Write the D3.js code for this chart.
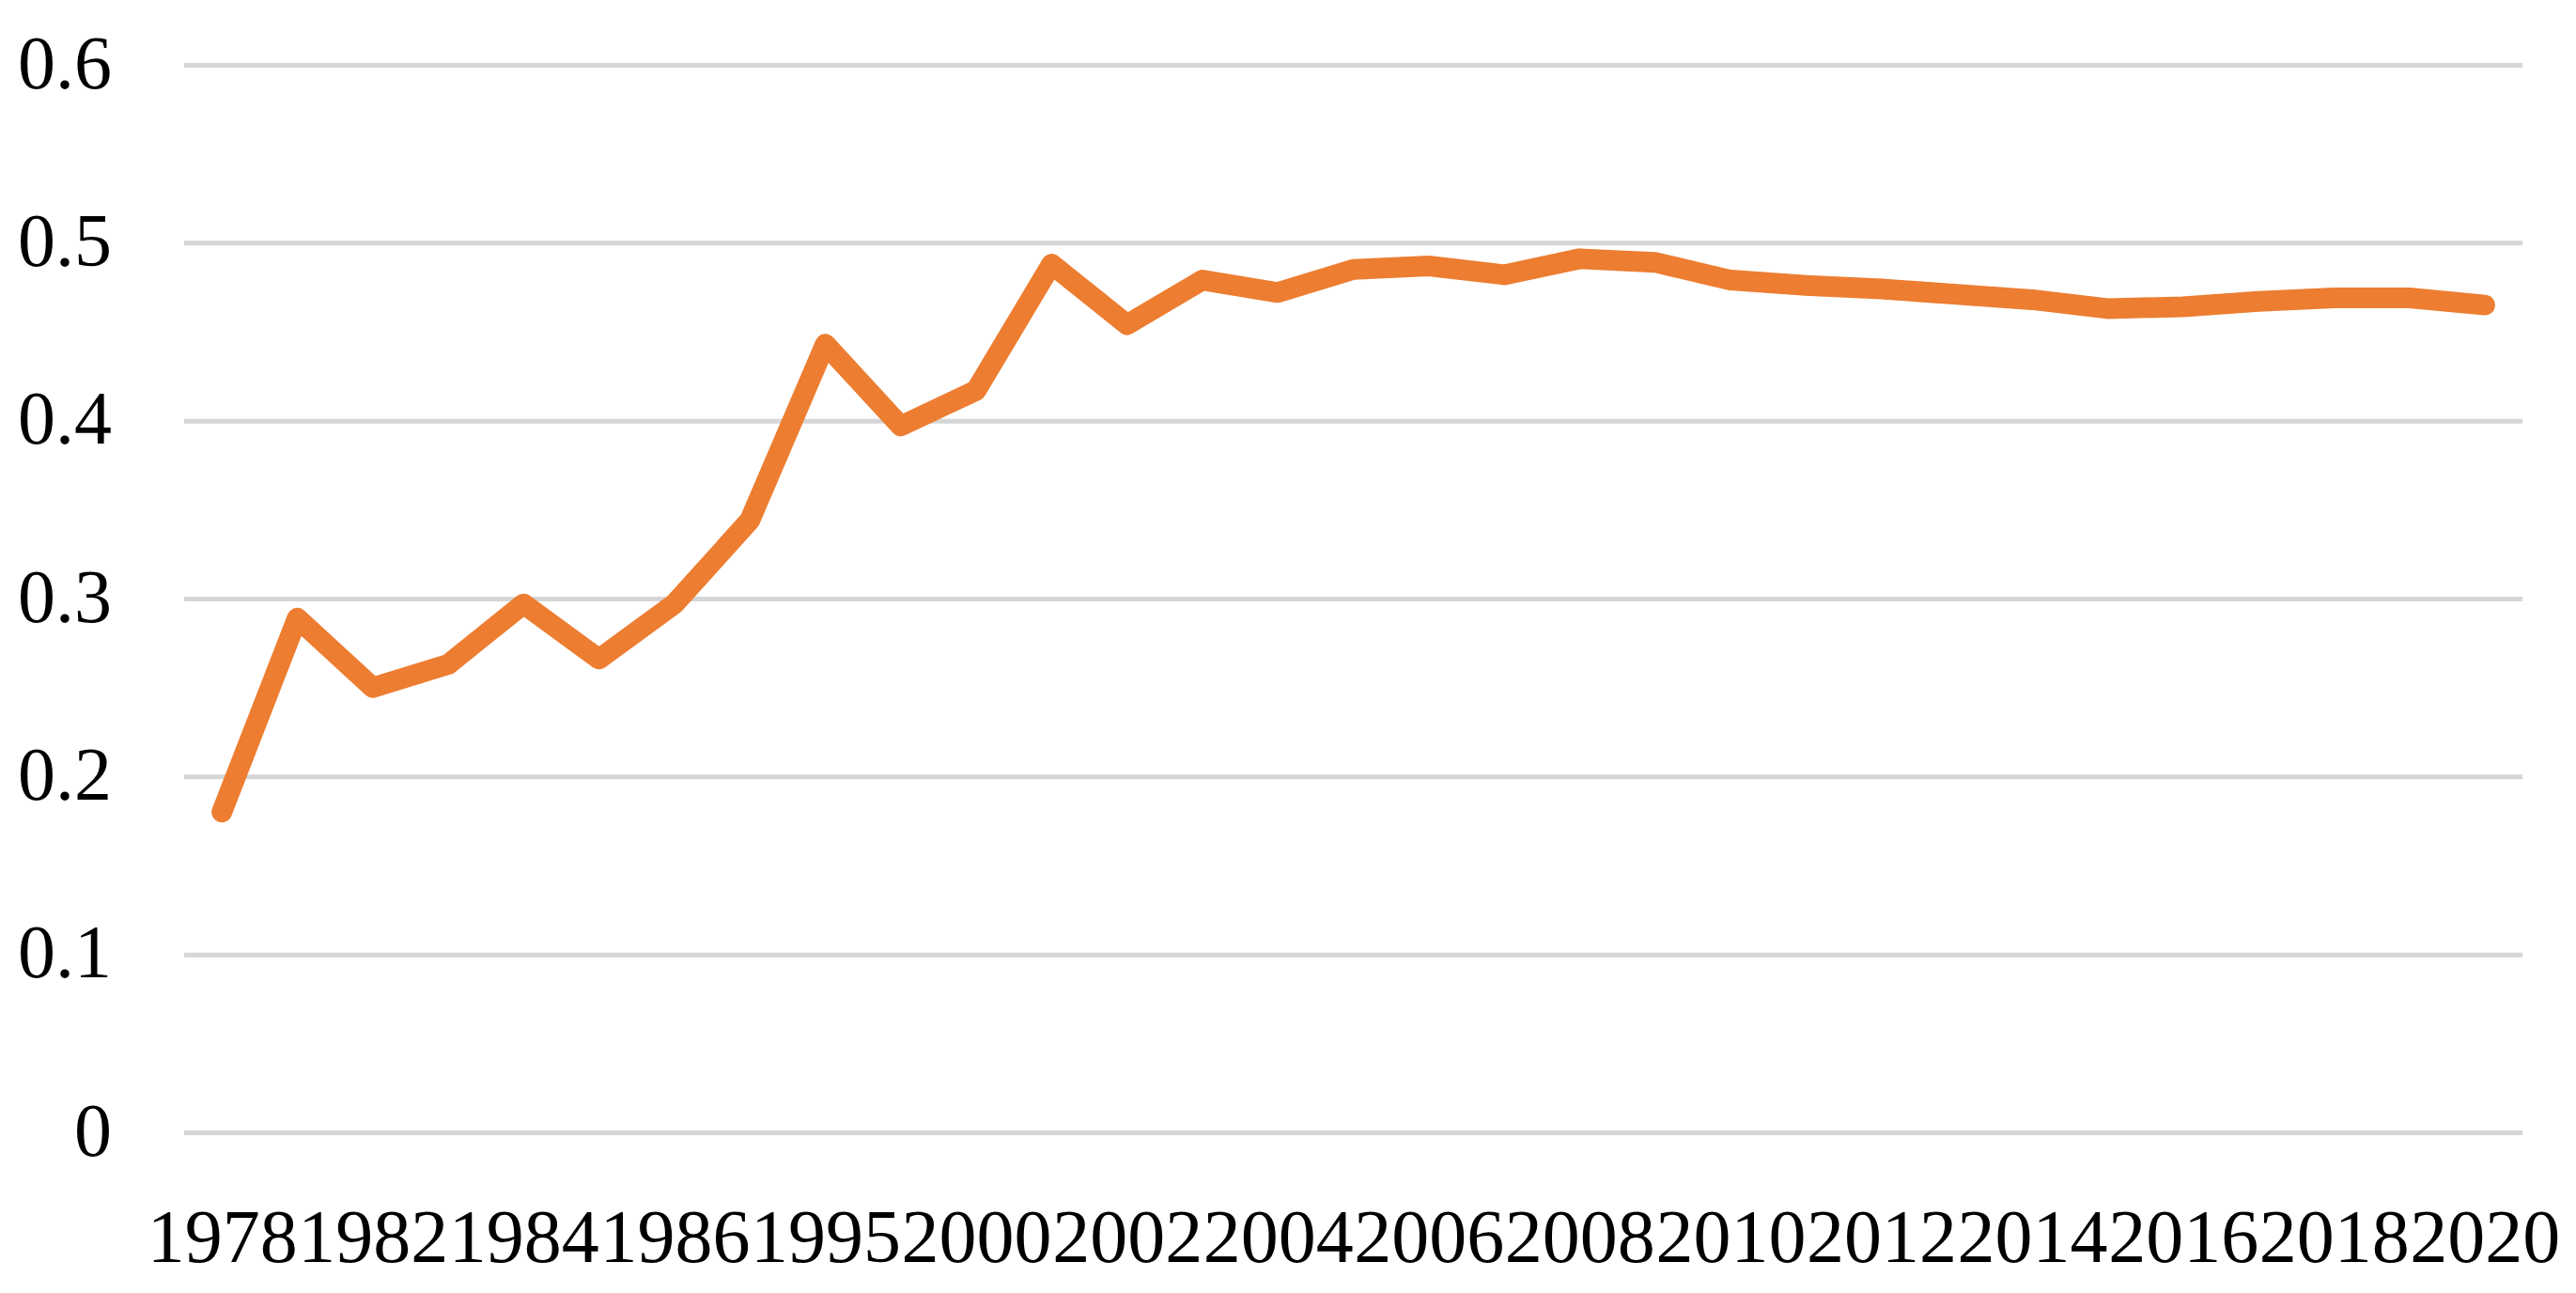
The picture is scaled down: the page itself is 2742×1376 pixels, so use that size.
<!DOCTYPE html>
<html>
<head>
<meta charset="utf-8">
<script src="https://cdn.jsdelivr.net/npm/d3@7"></script>
<style>
  html, body { margin: 0; padding: 0; background: #ffffff; }
  svg { display: block; }
</style>
</head>
<body>
<script>
// ---- data ----
const years = ["1978","1980","1982","1983","1984","1985","1986","1990","1995","1998",
  "2000","2001","2002","2003","2004","2005","2006","2007","2008","2009","2010",
  "2011","2012","2013","2014","2015","2016","2017","2018","2019","2020"];
const values = [0.180, 0.289, 0.250, 0.263, 0.297, 0.266, 0.297, 0.344, 0.443, 0.397,
  0.417, 0.488, 0.454, 0.479, 0.472, 0.485, 0.487, 0.482, 0.491, 0.489, 0.479,
  0.476, 0.474, 0.471, 0.468, 0.463, 0.464, 0.467, 0.469, 0.469, 0.465];
const xTickLabels = ["1978","1982","1984","1986","1995","2000","2002","2004","2006",
  "2008","2010","2012","2014","2016","2018","2020"];
const yTicks = [0, 0.1, 0.2, 0.3, 0.4, 0.5, 0.6];

// ---- layout ----
const W = 2742, H = 1376;
const plotLeft = 196, plotRight = 2685, plotTop = 69, plotBottom = 1205;
const fontFamily = "'Liberation Serif', 'Times New Roman', serif";
const fontSize = 80;

const svg = d3.select("body").append("svg")
  .attr("width", W).attr("height", H)
  .attr("viewBox", `0 0 ${W} ${H}`);
svg.append("rect").attr("width", W).attr("height", H).attr("fill", "#ffffff");

const x = d3.scalePoint().domain(years).range([plotLeft, plotRight]).padding(0.5);
const y = d3.scaleLinear().domain([0, 0.6]).range([plotBottom, plotTop]);

// gridlines
const grid = svg.append("g")
  .attr("transform", `translate(${plotLeft},0)`)
  .call(d3.axisLeft(y).tickValues(yTicks).tickSize(-(plotRight - plotLeft)).tickFormat(""));
grid.select(".domain").remove();
grid.selectAll(".tick line").attr("stroke", "#d6d6d6").attr("stroke-width", 5);

// y labels
const yAxis = svg.append("g")
  .attr("transform", `translate(${plotLeft},0)`)
  .call(d3.axisLeft(y).tickValues(yTicks).tickSize(0).tickFormat(d3.format("")));
yAxis.select(".domain").remove();
yAxis.selectAll(".tick text")
  .attr("x", 119 - plotLeft).attr("dy", 0).attr("y", 24)
  .attr("text-anchor", "end")
  .attr("fill", "#000000")
  .style("font-family", fontFamily).style("font-size", fontSize + "px");

// x labels
const xAxis = svg.append("g")
  .attr("transform", `translate(0,${plotBottom})`)
  .call(d3.axisBottom(x).tickValues(xTickLabels).tickSize(0));
xAxis.select(".domain").remove();
xAxis.selectAll(".tick text")
  .attr("y", 138).attr("dy", 0)
  .attr("fill", "#000000")
  .style("font-family", fontFamily).style("font-size", fontSize + "px");

// line
const line = d3.line()
  .x((d, i) => x(years[i]))
  .y(d => y(d));
svg.append("path")
  .datum(values)
  .attr("d", line)
  .attr("fill", "none")
  .attr("stroke", "#ED7D31")
  .attr("stroke-width", 22)
  .attr("stroke-linejoin", "round")
  .attr("stroke-linecap", "round");
</script>
</body>
</html>
